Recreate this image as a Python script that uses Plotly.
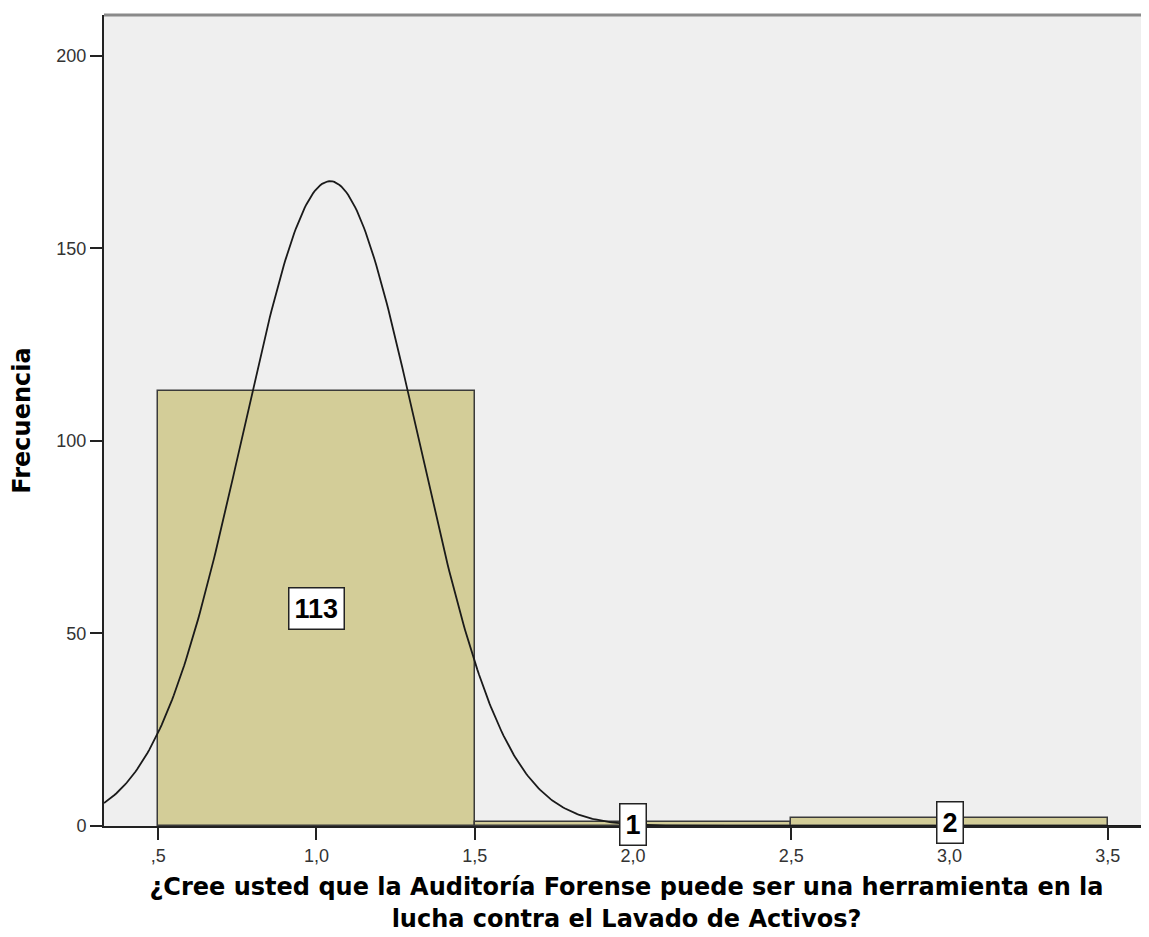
import numpy as np
import plotly.graph_objects as go

# Data
bin_centers = [1.0, 2.0, 3.0]
counts = [113, 1, 2]
bin_width = 1.0
tick_vals = [0.5, 1.0, 1.5, 2.0, 2.5, 3.0, 3.5]
tick_text = [",5", "1,0", "1,5", "2,0", "2,5", "3,0", "3,5"]
y_tick_vals = [0, 50, 100, 150, 200]
y_tick_text = ["0", "50", "100", "150", "200"]

# Fitted normal curve (as SPSS draws it) from the histogram counts
c = np.array(counts, float)
xc = np.array(bin_centers, float)
n = c.sum()
mean = (c * xc).sum() / n
sd = np.sqrt((c * (xc - mean) ** 2).sum() / (n - 1))
xs = np.linspace(0.329, 3.63, 600)
ys = n * bin_width / (sd * np.sqrt(2 * np.pi)) * np.exp(-0.5 * ((xs - mean) / sd) ** 2)

fig = go.Figure()
fig.add_trace(go.Bar(
    x=bin_centers, y=counts, width=bin_width,
    marker=dict(color="#D3CD98", line=dict(color="#3a3a3a", width=1.5)),
    showlegend=False, hoverinfo="skip",
))
fig.add_trace(go.Scatter(
    x=xs, y=ys, mode="lines", line=dict(color="#1a1a1a", width=1.8),
    showlegend=False, hoverinfo="skip",
))

for xv, cv in zip(bin_centers, counts):
    fig.add_annotation(
        x=xv, y=cv / 2, text="<b>%d</b>" % cv, showarrow=False,
        font=dict(family="Liberation Sans, Arial", size=27, color="black"),
        bgcolor="white", bordercolor="#222222", borderwidth=1.5, borderpad=5,
    )

# gray top border
fig.add_shape(type="line", xref="paper", yref="paper", x0=0, x1=1, y0=1, y1=1,
              line=dict(color="#8a8a8a", width=3))

fig.update_layout(
    width=1141, height=929,
    margin=dict(l=96, r=0, t=7, b=111),
    paper_bgcolor="white", plot_bgcolor="#EFEFEF",
    font=dict(family="Liberation Sans, Arial", size=18, color="#222222"),
    bargap=0,
    xaxis=dict(
        range=[0.329, 3.63], tickvals=tick_vals, ticktext=tick_text,
        ticks="outside", ticklen=12, tickwidth=1.5, tickcolor="#222222",
        showgrid=False, zeroline=False, showline=True, linecolor="#222222", linewidth=2,
        tickfont=dict(size=18, color="#333333"),
        title=dict(text="<b>¿Cree usted que la Auditoría Forense puede ser una herramienta en la<br>lucha contra el Lavado de Activos?</b>",
                   font=dict(family="DejaVu Sans", size=24, color="black"), standoff=14),
    ),
    yaxis=dict(
        range=[0, 210.6], tickvals=y_tick_vals, ticktext=y_tick_text,
        ticks="outside", ticklen=12, tickwidth=1.5, tickcolor="#222222",
        showgrid=False, zeroline=False, showline=True, linecolor="#222222", linewidth=2,
        tickfont=dict(size=18, color="#333333"),
        title=dict(text="<b>Frecuencia</b>", font=dict(family="DejaVu Sans", size=24, color="black"), standoff=20),
    ),
)

fig.write_html("out.html")
